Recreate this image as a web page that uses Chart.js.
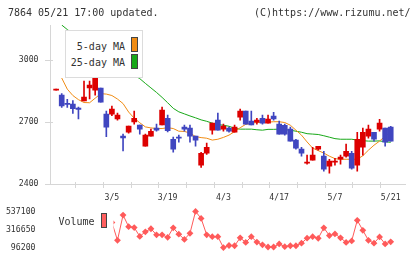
<!DOCTYPE html>
<html>
<head>
<meta charset="utf-8">
<script src="https://cdn.jsdelivr.net/npm/chart.js@4/dist/chart.umd.min.js"></script>
<style>
  html,body{margin:0;padding:0;background:#fff;}
  #wrap{position:relative;width:420px;height:259px;overflow:hidden;font-family:'DejaVu Sans Mono',monospace;color:#333;}
  .t{position:absolute;font-size:10px;line-height:12px;white-space:nowrap;}
  canvas{position:absolute;left:0;}
  .box{position:absolute;border:1px solid #444;}
</style>
</head>
<body>
<div id="wrap">
  <canvas id="main" width="420" height="205" style="top:0"></canvas>
  <canvas id="vol" width="420" height="59" style="top:200px"></canvas>
  <div class="t" style="left:8px;top:6.5px;">7864 05/21 17:00 updated.</div>
  <div class="t" style="left:254px;top:6.5px;">(C)https://www.rizumu.net/</div>
  <div id="leg" style="position:absolute;left:65px;top:30px;width:76px;height:46px;border:1px solid #dcdcdc;background:#fff;">
    <div class="t" style="right:17px;top:9.5px;">5-day MA</div>
    <div class="box" style="left:64.5px;top:6px;width:5px;height:13px;background:#f08c14;"></div>
    <div class="t" style="right:17px;top:26px;">25-day MA</div>
    <div class="box" style="left:64.5px;top:23px;width:5px;height:13px;background:#18a818;"></div>
  </div>
  <div class="t" style="left:58.5px;top:216px;">Volume</div>
  <div class="box" style="left:101px;top:212.5px;width:4px;height:13.5px;background:#ff5f5f;"></div>
</div>
<script>
const dates = ['2/19','2/20','2/21','2/22','2/26','2/27','2/28','2/29','3/1','3/4',
  '3/5','3/6','3/7','3/8','3/11','3/12','3/13','3/14','3/15','3/18',
  '3/19','3/21','3/22','3/25','3/26','3/27','3/28','3/29','4/1','4/2',
  '4/3','4/4','4/5','4/8','4/9','4/10','4/11','4/12','4/15','4/16',
  '4/17','4/18','4/19','4/22','4/23','4/24','4/25','4/26','5/1','5/2',
  '5/7','5/8','5/9','5/10','5/13','5/14','5/15','5/16','5/17','5/20',
  '5/21'];
const dateTicks = ['3/5','3/19','4/3','4/17','5/7','5/21'];
const priceTicks = [2400, 2700, 3000];
const volumeTicks = [96200, 316650, 537100];

const opens = [2855,2831,2790,2787,2768,2803,2866,2855,2865,2739,
  2739,2715,2632,2651,2701,2686,2583,2632,2671,2687,
  2719,2617,2627,2676,2671,2632,2491,2549,2661,2710,
  2666,2671,2651,2724,2753,2705,2700,2719,2695,2729,
  2690,2685,2666,2613,2569,2501,2515,2569,2535,2486,
  2506,2520,2535,2549,2491,2578,2632,2651,2666,2671,
  2676];
const highs = [2855,2839,2810,2805,2773,2899,2899,2920,2865,2753,
  2778,2744,2642,2681,2753,2686,2642,2666,2690,2773,
  2734,2627,2637,2686,2686,2632,2554,2598,2695,2744,
  2690,2676,2686,2763,2753,2753,2719,2734,2734,2748,
  2705,2690,2676,2617,2578,2540,2578,2583,2559,2520,
  2525,2540,2593,2559,2651,2671,2686,2651,2714,2671,
  2680];
const lows = [2855,2771,2771,2742,2715,2803,2812,2831,2797,2629,
  2731,2710,2561,2646,2690,2642,2583,2632,2656,2687,
  2653,2554,2603,2656,2603,2583,2481,2544,2642,2661,
  2656,2651,2651,2710,2690,2686,2690,2690,2695,2710,
  2642,2637,2608,2569,2535,2496,2515,2564,2462,2452,
  2491,2496,2530,2472,2462,2540,2622,2608,2656,2584,
  2608];
const closes = [2855,2779,2786,2765,2762,2821,2880,2913,2797,2676,
  2763,2734,2624,2681,2719,2666,2637,2656,2661,2758,
  2658,2569,2622,2666,2632,2613,2549,2578,2695,2661,
  2681,2656,2676,2753,2690,2686,2710,2695,2715,2715,
  2642,2642,2608,2574,2549,2506,2540,2583,2472,2511,
  2511,2530,2559,2477,2617,2651,2666,2617,2695,2603,
  2608];
const ma5 = [null,2914,2860,2829,2809,2795,2794,2816,2838,2836,
  2829,2812,2790,2749,2719,2697,2677,2672,2669,2669,
  2673,2669,2656,2655,2647,2630,2625,2622,2613,2617,
  2626,2637,2654,2673,2689,2695,2698,2699,2700,2702,
  2702,2698,2685,2661,2637,2604,2574,2562,2550,2535,
  2523,2520,2520,2520,2520,2537,2564,2588,2608,2632,
  2651];
const ma25 = [null,3171,3149,3130,3113,3093,3074,3057,3040,3020,
  3003,2986,2966,2947,2927,2911,2888,2866,2844,2820,
  2794,2767,2750,2740,2730,2721,2711,2704,2695,2688,
  2685,2680,2670,2666,2666,2666,2663,2661,2665,2665,
  2666,2663,2661,2656,2651,2644,2642,2640,2634,2627,
  2620,2617,2617,2617,2613,2610,2608,2608,2609,2605,
  2602];
const volumes = [null,null,null,null,null,null,null,null,null,null,
  402700,185000,492700,351600,340500,232800,288300,326000,251700,251700,
  221700,337200,259500,196200,270600,537100,451600,251700,229500,229500,
  96200,121700,118400,215000,159500,229500,162800,129500,103000,103000,
  140600,107300,118400,118400,149500,210600,229500,209500,337200,242800,
  262800,215000,159500,177300,428300,307200,185000,149500,226100,140600,
  166200];

const RED = '#dd0000', BLUE = '#4046c0', AXIS = '#d6d6d6';
Chart.defaults.font.family = "'DejaVu Sans Mono', monospace";
Chart.defaults.font.size = 8.2;
Chart.defaults.color = '#333';
Chart.defaults.animation = false;

const candleColor = ctx => closes[ctx.dataIndex] >= opens[ctx.dataIndex] ? RED : BLUE;
const X_MIN = -1.1, X_MAX = 62.65;

const tickMarks = {
  id: 'tickMarks',
  afterDraw(chart) {
    const {ctx, chartArea: a, scales} = chart;
    ctx.save();
    ctx.strokeStyle = AXIS; ctx.lineWidth = 1;
    ctx.beginPath();
    scales.y.ticks.forEach(t => {
      const py = Math.round(scales.y.getPixelForValue(t.value)) + 0.5;
      ctx.moveTo(a.left - 5, py); ctx.lineTo(a.left + 3, py);
    });
    const x2 = scales.x2;
    for (let j = x2.min; j <= x2.max; j++) {
      const px = Math.round(x2.getPixelForValue(j)) + 0.5;
      ctx.moveTo(px, a.bottom - 2); ctx.lineTo(px, a.bottom + 4);
    }
    ctx.stroke();
    ctx.restore();
  }
};

new Chart(document.getElementById('main'), {
  type: 'bar',
  data: {
    datasets: [
      {
        type: 'bar', label: 'body', order: 1, grouped: false,
        data: opens.map((o, i) => ({x: i, y: [o, closes[i]]})),
        backgroundColor: candleColor, borderWidth: 0, barThickness: 5, minBarLength: 1
      },
      {
        type: 'bar', label: 'wick', order: 2, grouped: false,
        data: lows.map((l, i) => ({x: i, y: [l, highs[i]]})),
        backgroundColor: candleColor, borderWidth: 0, barThickness: 1, minBarLength: 1
      },
      {
        type: 'line', label: '5-day MA', order: 3,
        data: ma5.map((v, i) => ({x: i, y: v})),
        borderColor: '#f08c14', borderWidth: 1, pointRadius: 0, tension: 0
      },
      {
        type: 'line', label: '25-day MA', order: 4,
        data: ma25.map((v, i) => ({x: i, y: v})),
        borderColor: '#18a818', borderWidth: 1, pointRadius: 0, tension: 0
      }
    ]
  },
  options: {
    responsive: false, devicePixelRatio: 1,
    layout: {padding: {left: 0, right: 14.5, top: 25, bottom: 0}},
    plugins: {legend: {display: false}, tooltip: {enabled: false}},
    scales: {
      x: {
        type: 'linear', min: X_MIN, max: X_MAX, offset: false,
        grid: {display: true, drawOnChartArea: false, drawTicks: false, offset: false},
        border: {display: true, color: AXIS},
        afterBuildTicks: s => { s.ticks = dates.map((d, i) => dateTicks.includes(d) ? {value: i} : null).filter(Boolean); },
        ticks: {padding: 9, maxRotation: 0, autoSkip: false, callback: v => dates[v]},
        afterFit: s => { s.height = 21; }
      },
      x2: {type: 'linear', display: false, min: 0, max: 11},
      y: {
        min: 2400, max: 3171,
        grid: {display: true, drawOnChartArea: false, drawTicks: false},
        border: {display: true, color: AXIS},
        afterBuildTicks: s => { s.ticks = priceTicks.map(v => ({value: v})); },
        ticks: {padding: 11.5, callback: v => String(v)},
        afterFit: s => { s.width = 50; }
      }
    }
  },
  plugins: [tickMarks]
});

new Chart(document.getElementById('vol'), {
  type: 'line',
  data: {
    datasets: [{
      label: 'Volume',
      data: volumes.map((v, i) => ({x: i, y: v})),
      borderColor: '#ff5a5a', borderWidth: 1, tension: 0,
      pointStyle: 'rectRot', pointRadius: 3.4, pointBackgroundColor: '#ff5a5a', pointBorderWidth: 0,
      clip: {left: -63.5, top: false, right: false, bottom: false}
    }]
  },
  options: {
    responsive: false, devicePixelRatio: 1,
    layout: {padding: {left: 0, right: 14.5, top: 9.3, bottom: 10}},
    plugins: {legend: {display: false}, tooltip: {enabled: false}},
    scales: {
      x: {type: 'linear', min: X_MIN, max: X_MAX, display: false},
      y: {
        min: volumeTicks[0], max: volumeTicks[volumeTicks.length - 1],
        grid: {display: false}, border: {display: false},
        afterBuildTicks: s => { s.ticks = volumeTicks.map(v => ({value: v})); },
        ticks: {padding: 6.5, callback: v => String(v)},
        afterFit: s => { s.width = 50; }
      }
    }
  }
});
</script>
</body>
</html>
